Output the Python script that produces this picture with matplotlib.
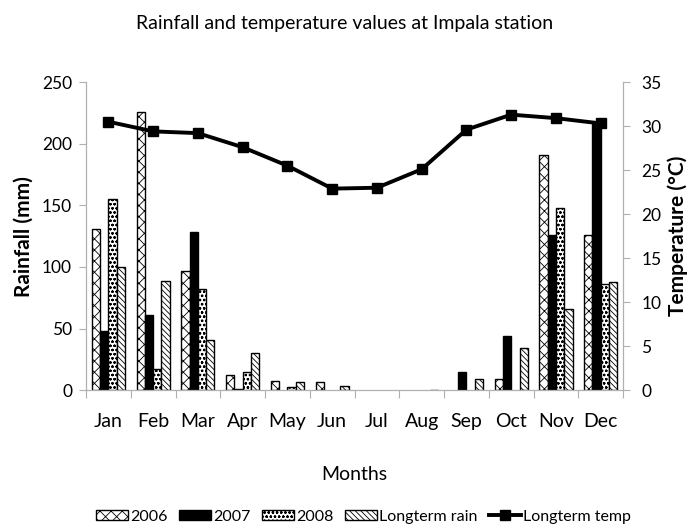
import numpy as np
import matplotlib
matplotlib.use('Agg')
import matplotlib.pyplot as plt

plt.rcParams['font.family'] = ['Lato', 'DejaVu Sans']
plt.rcParams['hatch.linewidth'] = 0.6

# Dados
months = ['Jan', 'Feb', 'Mar', 'Apr', 'May', 'Jun', 'Jul', 'Aug', 'Sep', 'Oct', 'Nov', 'Dec']
rain_2006 = [131, 226, 97, 12, 7.5, 7, 0, 0, 0, 9, 191, 126]
rain_2007 = [48, 61, 128, 1, 0, 0, 0, 0, 15, 44, 126, 216]
rain_2008 = [155, 17, 82, 15, 2.7, 0, 0, 0, 0, 0, 148, 86]
rain_lt = [100, 89, 41, 30, 7, 3.5, 0, 0.5, 9, 34, 66, 88]
temp_lt = [30.5, 29.4, 29.2, 27.6, 25.5, 22.9, 23.0, 25.1, 29.6, 31.3, 30.9, 30.3]

x = np.arange(len(months))
w = 0.185
grey = '#b0b0b0'

fig = plt.figure(figsize=(6.9, 5.26), dpi=100)
ax = fig.add_axes([0.1246, 0.258, 0.7785, 0.586])

series = [(rain_2006, 'white', 'xxx', '2006'),
          (rain_2007, 'black', None, '2007'),
          (rain_2008, 'white', 'oooo', '2008'),
          (rain_lt, 'white', '\\\\\\\\\\\\', 'Longterm rain')]
handles = []
for i, (vals, fc, h, lab) in enumerate(series):
    # barras de altura zero não aparecem no original
    v = np.array(vals, dtype=float)
    v[v <= 0] = np.nan
    b = ax.bar(x + (i - 1.5) * w, v, w, color=fc, hatch=h, edgecolor='black',
               linewidth=1.0, label=lab)
    handles.append(b)

ax.set_xlim(-0.5, 11.5)
ax.set_ylim(0, 250)
ax.set_yticks(np.arange(0, 251, 50))
ax.set_xticks(np.arange(-0.5, 12, 1))
ax.set_xticklabels([])
ax.set_xticks(x, minor=True)
ax.set_xticklabels(months, minor=True, fontsize=14)
ax.tick_params(axis='x', which='major', length=6, color=grey)
ax.tick_params(axis='x', which='minor', length=0, pad=16)
ax.tick_params(axis='y', length=5, color=grey, labelsize=12.5, pad=5)
for s in ['left', 'bottom', 'right']:
    ax.spines[s].set_color(grey)
ax.spines['top'].set_visible(False)
ax.set_ylabel('Rainfall (mm)', fontsize=15, fontweight='bold', labelpad=6)
ax.set_xlabel('Months', fontsize=14, labelpad=26)

ax2 = ax.twinx()
ln, = ax2.plot(x, temp_lt, color='black', lw=2.8, marker='s', ms=7, label='Longterm temp')
ax2.set_ylim(0, 35)
ax2.set_yticks(np.arange(0, 36, 5))
ax2.tick_params(axis='y', length=5, color=grey, labelsize=12.5, pad=8)
for s in ['left', 'bottom', 'right']:
    ax2.spines[s].set_color(grey)
ax2.spines['top'].set_visible(False)
ax2.set_ylabel('Temperature (°C)', fontsize=15, fontweight='bold', labelpad=4)

fig.suptitle('Rainfall and temperature values at Impala station', fontsize=14, y=0.972)
fig.legend(handles + [ln], ['2006', '2007', '2008', 'Longterm rain', 'Longterm temp'],
           loc='center', bbox_to_anchor=(0.527, 0.018), ncol=5, frameon=False,
           fontsize=11.5, handlelength=2.0, handleheight=0.65,
           handletextpad=0.15, columnspacing=0.7, borderaxespad=0)

fig.savefig('out.png', dpi=100)
